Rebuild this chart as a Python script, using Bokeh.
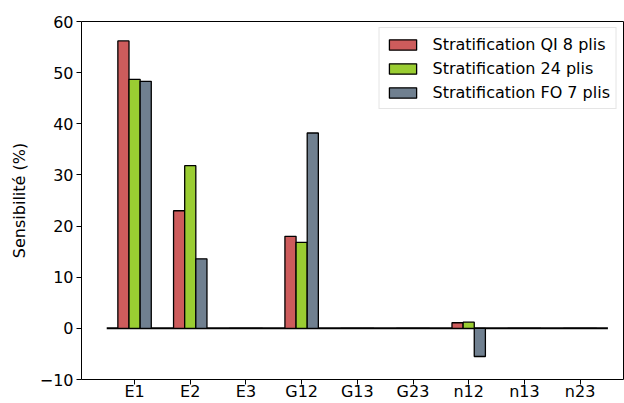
from bokeh.plotting import figure
from bokeh.models import ColumnDataSource, FixedTicker, Legend, LegendItem, Range1d
from bokeh.embed import file_html
from bokeh.resources import INLINE

categories = ["E1", "E2", "E3", "G12", "G13", "G23", "n12", "n13", "n23"]
qi8 = [56.2, 23.0, 0.0, 18.0, 0.0, 0.0, 1.1, 0.0, 0.0]
s24 = [48.7, 31.8, 0.0, 16.8, 0.0, 0.0, 1.2, 0.0, 0.0]
fo7 = [48.3, 13.6, 0.0, 38.2, 0.0, 0.0, -5.5, 0.0, 0.0]
series_names = ["Stratification QI 8 plis", "Stratification 24 plis", "Stratification FO 7 plis"]
colors = ["#cd5c5c", "#9acd32", "#708090"]
y_ticks = [-10, 0, 10, 20, 30, 40, 50, 60]
hline_y = 0
hline_xmin = -0.5
hline_xmax = 8.5

FONT = "DejaVu Sans"
FS = "16px"

p = figure(width=624, height=403, output_backend="svg", toolbar_location=None,
           x_range=Range1d(-0.953, 8.78), y_range=Range1d(-10, 60),
           min_border_left=81, min_border_right=1, min_border_top=21, min_border_bottom=24)

p.segment(x0=[hline_xmin], y0=[hline_y], x1=[hline_xmax], y1=[hline_y],
          line_color="black", line_width=2)

xs = list(range(len(categories)))
renderers = []
for k, (vals, col) in enumerate(zip([qi8, s24, fo7], colors)):
    src = ColumnDataSource(dict(x=[i + (k - 1) * 0.2 for i in xs], top=vals, bottom=[0] * len(vals)))
    r = p.vbar(x="x", top="top", bottom="bottom", width=0.2, source=src,
               fill_color=col, line_color="black", line_width=1.3)
    renderers.append(r)

legend = Legend(items=[LegendItem(label=n, renderers=[r]) for n, r in zip(series_names, renderers)],
                location="top_right")
legend.label_text_font = FONT
legend.label_text_font_size = FS
legend.label_text_color = "black"
legend.glyph_width = 34
legend.glyph_height = 13
legend.label_height = 20
legend.spacing = 4
legend.padding = 6
legend.margin = 6
legend.label_standoff = 13
legend.border_line_color = "#cccccc"
legend.border_line_width = 1
legend.background_fill_alpha = 0.8
p.add_layout(legend)

p.xgrid.visible = False
p.ygrid.visible = False
p.outline_line_color = "black"
p.outline_line_width = 1

p.xaxis.ticker = FixedTicker(ticks=xs)
p.xaxis.major_label_overrides = {i: c for i, c in enumerate(categories)}
p.yaxis.ticker = FixedTicker(ticks=y_ticks)
p.yaxis.major_label_overrides = {t: (("\u2212" + str(-t)) if t < 0 else str(t)) for t in y_ticks}
p.yaxis.axis_label = "Sensibilité (%)"

for ax in [p.xaxis[0], p.yaxis[0]]:
    ax.axis_line_color = None
    ax.major_tick_in = 0
    ax.major_tick_out = 5
    ax.minor_tick_line_color = None
    ax.major_tick_line_color = "black"
    ax.major_label_text_font = FONT
    ax.major_label_text_font_size = FS
    ax.major_label_text_color = "black"
    ax.major_label_standoff = 3
    ax.axis_label_text_font = FONT
    ax.axis_label_text_font_size = FS
    ax.axis_label_text_font_style = "normal"
    ax.axis_label_text_color = "black"
    ax.axis_label_standoff = 8
p.xaxis[0].major_label_standoff = -3

open("out.html", "w").write(file_html(p, INLINE))
